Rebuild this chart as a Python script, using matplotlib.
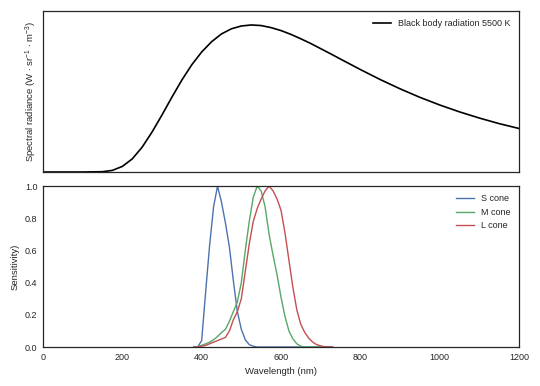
import matplotlib
matplotlib.use("Agg")
import matplotlib.pyplot as plt

# Black body radiation at 5500 K (normalised)
bb_wavelength = [0, 50, 100, 150, 175, 200, 225, 250, 275, 300, 325, 350, 375,
                 400, 425, 450, 475, 500, 525, 550, 575, 600, 625, 650, 675,
                 700, 725, 750, 800, 850, 900, 950, 1000, 1050, 1100, 1150, 1200]
bb_radiance = [0.0, 0.0, 0.0, 0.002, 0.011, 0.038, 0.089, 0.169, 0.272, 0.388,
               0.509, 0.625, 0.729, 0.816, 0.886, 0.939, 0.974, 0.993, 1.0,
               0.996, 0.982, 0.962, 0.936, 0.906, 0.874, 0.839, 0.804, 0.768,
               0.697, 0.629, 0.566, 0.508, 0.456, 0.409, 0.367, 0.329, 0.296]

# Cone sensitivities
cone_wavelength = [380, 390, 400, 410, 420, 430, 440, 450, 460, 470, 480, 490,
                   500, 510, 520, 530, 540, 550, 560, 570, 580, 590, 600, 610,
                   620, 630, 640, 650, 660, 670, 680, 690, 700, 710, 720, 730]
s_cone = [0.0, 0.0, 0.04, 0.34, 0.63, 0.87, 1.0, 0.90, 0.77, 0.62, 0.41, 0.22,
          0.11, 0.045, 0.015, 0.005, 0.0, 0.0, 0.0, 0.0, 0.0, 0.0, 0.0, 0.0,
          0.0, 0.0, 0.0, 0.0, 0.0, 0.0, 0.0, 0.0, 0.0, 0.0, 0.0, 0.0]
m_cone = [0.0, 0.0, 0.01, 0.02, 0.03, 0.045, 0.065, 0.09, 0.11, 0.16, 0.22, 0.28,
          0.40, 0.60, 0.78, 0.93, 1.0, 0.97, 0.87, 0.70, 0.57, 0.45, 0.31, 0.19,
          0.10, 0.05, 0.02, 0.005, 0.0, 0.0, 0.0, 0.0, 0.0, 0.0, 0.0, 0.0]
l_cone = [0.0, 0.0, 0.005, 0.01, 0.02, 0.03, 0.04, 0.05, 0.06, 0.10, 0.17, 0.22,
          0.30, 0.47, 0.64, 0.78, 0.86, 0.92, 0.97, 1.0, 0.97, 0.92, 0.85, 0.71,
          0.54, 0.37, 0.23, 0.14, 0.09, 0.055, 0.03, 0.015, 0.007, 0.002, 0.0, 0.0]

x_ticks = [0, 200, 400, 600, 800, 1000, 1200]
y_ticks = [0.0, 0.2, 0.4, 0.6, 0.8, 1.0]

plt.rcParams['font.family'] = ['Liberation Sans', 'DejaVu Sans']
plt.rcParams['mathtext.default'] = 'regular'
plt.rcParams['text.color'] = '0.15'
plt.rcParams['axes.labelcolor'] = '0.15'
plt.rcParams['xtick.color'] = '0.15'
plt.rcParams['ytick.color'] = '0.15'

fig = plt.figure(figsize=(5.4, 3.86), dpi=100)
ax1 = fig.add_axes([0.0796, 0.5544, 0.8815, 0.4171])
ax2 = fig.add_axes([0.0796, 0.101, 0.8815, 0.417], sharex=ax1)

for ax in (ax1, ax2):
    for sp in ax.spines.values():
        sp.set_color('0.15')
        sp.set_linewidth(0.9)
    ax.tick_params(length=0, labelsize=6.5, pad=4)

# Top: black body
ax1.plot(bb_wavelength, bb_radiance, color='black', lw=1.2,
         label='Black body radiation 5500 K')
ax1.set_ylim(0, 1.095)
ax1.set_yticks([])
ax1.tick_params(labelbottom=False)
ax1.set_ylabel(r'Spectral radiance (W $\cdot$ sr$^{-1}$ $\cdot$ m$^{-3}$)',
               fontsize=6.8, labelpad=3)
ax1.legend(loc='upper right', frameon=False, fontsize=6.5, handlelength=2.0)

# Bottom: cones
ax2.plot(cone_wavelength, s_cone, color='#4C72B0', lw=1.0, label='S cone')
ax2.plot(cone_wavelength, m_cone, color='#55A868', lw=1.0, label='M cone')
ax2.plot(cone_wavelength, l_cone, color='#C44E52', lw=1.0, label='L cone')
ax2.set_xlim(0, 1200)
ax2.set_ylim(0, 1)
ax2.set_xticks(x_ticks)
ax2.set_yticks(y_ticks)
ax2.set_xlabel('Wavelength (nm)', fontsize=6.8)
ax2.set_ylabel('Sensitivity)', fontsize=6.8)
ax2.legend(loc='upper right', frameon=False, fontsize=6.5, handlelength=2.0)

fig.savefig('out.png', dpi=100)
